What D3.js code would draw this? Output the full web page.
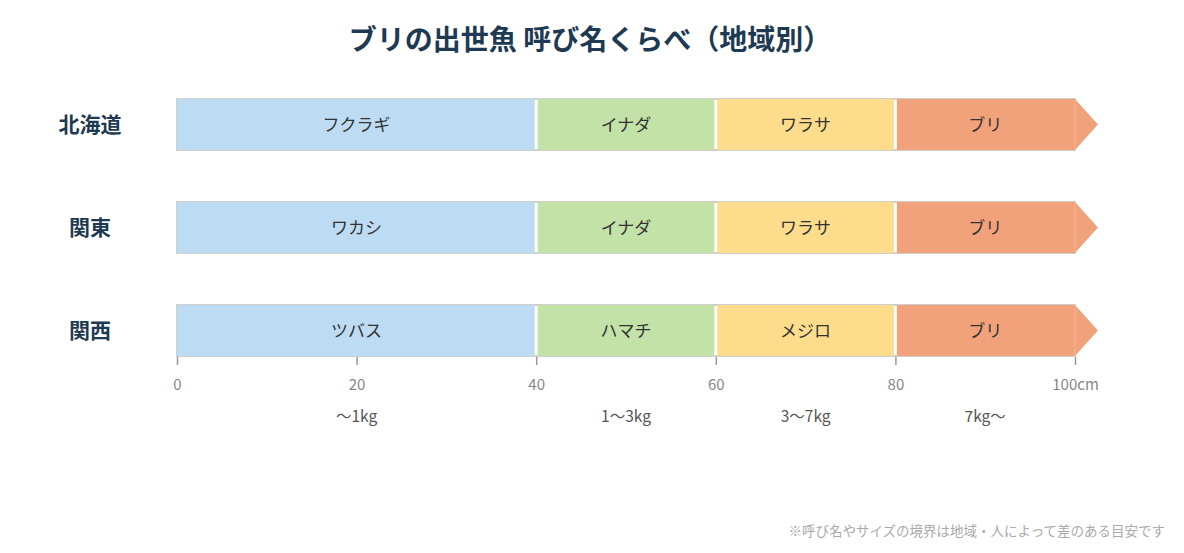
<!DOCTYPE html>
<html>
<head>
<meta charset="utf-8">
<script src="https://cdn.jsdelivr.net/npm/d3@7"></script>
<style>
body{margin:0;padding:0;background:#fff;overflow:hidden;font-family:'Noto Sans CJK JP','Noto Sans',sans-serif;}
</style>
</head>
<body>
<div id="chart"></div>
<script>
// ---- data ----
const regions = ["北海道", "関東", "関西"];
const stageBreaks = [0, 40, 60, 80, 100];   // cm
const names = {
  "北海道": ["フクラギ", "イナダ", "ワラサ", "ブリ"],
  "関東":   ["ワカシ", "イナダ", "ワラサ", "ブリ"],
  "関西":   ["ツバス", "ハマチ", "メジロ", "ブリ"]
};
const weightLabels = ["〜1kg", "1〜3kg", "3〜7kg", "7kg〜"];
const tickValues = [0, 20, 40, 60, 80, 100];
const colors = ["#bddcf4", "#c2e2a8", "#fddd8c", "#f2a27a"];

const width = 1184, height = 553;
const svg = d3.select("#chart").append("svg").attr("width", width).attr("height", height);

const x = d3.scaleLinear().domain([0, 100]).range([177, 1075]);
// rows: bar height 51, step 103
const barH = 51;
const y = d3.scalePoint().domain(regions).range([99, 305]);

// title
svg.append("text")
  .attr("x", 590).attr("y", 50)
  .attr("text-anchor", "middle")
  .attr("font-size", 28).attr("font-weight", 700)
  .attr("fill", "#1e3a52")
  .text("ブリの出世魚 呼び名くらべ（地域別）");

regions.forEach(r => {
  const g = svg.append("g");
  const top = y(r);

  // outline of the whole bar
  g.append("rect")
    .attr("x", x(0)).attr("y", top)
    .attr("width", x(100) - x(0)).attr("height", barH)
    .attr("fill", "none").attr("stroke", "#cfcfcf").attr("stroke-width", 2);

  // arrow head
  g.append("path")
    .attr("d", `M${x(100)},${top} L${x(100) + 23},${top + barH / 2} L${x(100)},${top + barH} Z`)
    .attr("fill", colors[3]);

  for (let i = 0; i < 4; i++) {
    const x0 = x(stageBreaks[i]), x1 = x(stageBreaks[i + 1]);
    g.append("rect")
      .attr("x", x0 + (i > 0 ? 1.5 : 0)).attr("y", top)
      .attr("width", x1 - x0 - (i > 0 ? 1.5 : 0) - (i < 3 ? 1.5 : 0)).attr("height", barH)
      .attr("fill", colors[i]);
    g.append("text")
      .attr("x", (x0 + x1) / 2).attr("y", top + barH / 2 + 6)
      .attr("text-anchor", "middle")
      .attr("font-size", 17).attr("fill", "#333")
      .text(names[r][i]);
  }
  // faint line where arrow meets bar
  g.append("line")
    .attr("x1", x(100)).attr("x2", x(100))
    .attr("y1", top).attr("y2", top + barH)
    .attr("stroke", "#f6b596").attr("stroke-width", 1);

  // region label
  svg.append("text")
    .attr("x", 90).attr("y", top + barH / 2 + 7)
    .attr("text-anchor", "middle")
    .attr("font-size", 21).attr("font-weight", 700)
    .attr("fill", "#1e3a52")
    .text(r);
});

// axis
const axis = d3.axisBottom(x).tickValues(tickValues).tickSize(8).tickPadding(14)
  .tickFormat(d => d === 100 ? "100cm" : d);
const ag = svg.append("g").attr("transform", `translate(0,${y("関西") + barH + 1})`).call(axis);
ag.select(".domain").remove();
ag.selectAll(".tick line").attr("stroke", "#999").attr("stroke-width", 1.5);
ag.selectAll(".tick text").attr("fill", "#888").attr("font-size", 15)
  .attr("font-family", "'Noto Sans CJK JP','Noto Sans',sans-serif");

// weight labels
weightLabels.forEach((w, i) => {
  svg.append("text")
    .attr("x", x((stageBreaks[i] + stageBreaks[i + 1]) / 2)).attr("y", 422)
    .attr("text-anchor", "middle")
    .attr("font-size", 15.5).attr("fill", "#555")
    .text(w);
});

// footnote
svg.append("text")
  .attr("x", 1165).attr("y", 536)
  .attr("text-anchor", "end")
  .attr("font-size", 13.5).attr("fill", "#aaa")
  .text("※呼び名やサイズの境界は地域・人によって差のある目安です");
</script>
</body>
</html>
